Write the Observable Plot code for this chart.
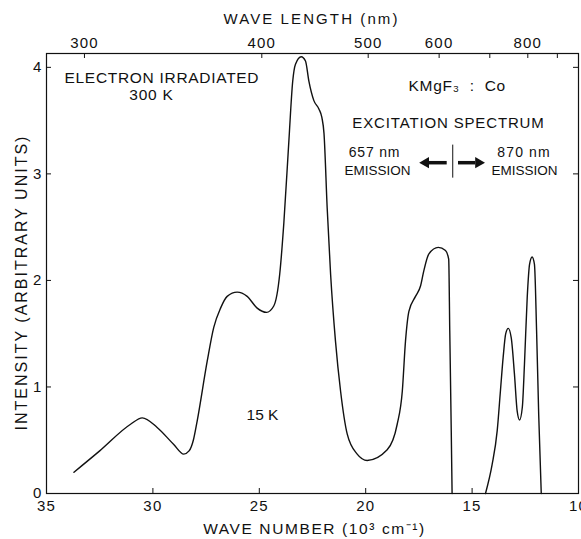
<!DOCTYPE html>
<html><head><meta charset="utf-8">
<script src="https://cdn.jsdelivr.net/npm/d3@7"></script>
<script src="https://cdn.jsdelivr.net/npm/@observablehq/plot@0.6"></script>
<style>body{margin:0;background:#fff}</style>
</head><body><div id="chart"></div>
<script>
// Excitation spectrum, part 1 (657 nm emission side)
const waveNumberA = [33.71, 32.5, 31.05, 30.5, 29.80, 29.02, 28.55, 28.30, 28.10, 27.92, 27.45, 27.14, 26.82, 26.51, 26.04, 25.57, 25.10, 24.66, 24.32, 24.04, 23.85, 23.61, 23.43, 23.30, 23.03, 22.83, 22.67, 22.44, 22.20, 22.06, 21.96, 21.81, 21.65, 21.42, 21.18, 20.87, 20.40, 19.93, 18.99, 18.52, 18.28, 18.13, 17.97, 17.66, 17.42, 17.27, 17.03, 16.59, 16.25, 16.10, 16.05, 15.98, 15.94];
const intensityA  = [0.20, 0.40, 0.65, 0.71, 0.62, 0.46, 0.37, 0.40, 0.50, 0.68, 1.24, 1.56, 1.74, 1.85, 1.89, 1.85, 1.74, 1.70, 1.76, 2.06, 2.53, 3.31, 3.87, 4.03, 4.10, 4.06, 3.87, 3.69, 3.61, 3.53, 3.38, 2.68, 2.06, 1.43, 0.96, 0.56, 0.37, 0.31, 0.41, 0.65, 0.96, 1.43, 1.71, 1.85, 1.95, 2.09, 2.25, 2.31, 2.28, 2.20, 1.53, 0.59, 0.0];
// part 2 (870 nm emission side)
const waveNumberB = [14.37, 14.06, 13.82, 13.67, 13.54, 13.42, 13.30, 13.16, 13.01, 12.88, 12.77, 12.64, 12.54, 12.41, 12.30, 12.18, 12.07, 11.97, 11.87, 11.75];
const intensityB  = [0.0, 0.27, 0.59, 0.96, 1.28, 1.50, 1.55, 1.46, 1.12, 0.77, 0.69, 0.81, 1.21, 1.84, 2.15, 2.22, 2.15, 1.53, 0.74, 0.0];

const xTicks = [35, 30, 25, 20, 15, 10];
const yTicks = [0, 1, 2, 3, 4];
const wavelengthTicks = [300, 400, 500, 600, 700, 800, 900];
const wavelengthLabels = ["300", "400", "500", "600", "", "800", ""];

const rows = [
  ...waveNumberA.map((w, i) => ({wn: w, v: intensityA[i], seg: "A"})),
  ...waveNumberB.map((w, i) => ({wn: w, v: intensityB[i], seg: "B"}))
];
const topTickWn = wavelengthTicks.map(nm => 10000 / nm);

const FONT = "Liberation Sans, Arial, sans-serif";
const ink = "#111";
const L = 46, T = 53; // frame origin (margins)

function label(txt, px, py, opts = {}) {
  return Plot.text([txt], {
    frameAnchor: "top-left", dx: px - L, dy: py - T,
    textAnchor: "middle", lineAnchor: "middle",
    fontSize: 15, fill: ink, fontFamily: FONT, ...opts
  });
}

// letter spacing per annotation (applied after render)
const spacing = {
  "WAVE LENGTH (nm)": 2.1,
  "ELECTRON IRRADIATED": 0.7,
  "300 K": 0.8,
  "KMgF₃  :  Co": 0.7,
  "EXCITATION SPECTRUM": 0.85,
  "657 nm": 0.8,
  "870 nm": 1.1,
  "INTENSITY (ARBITRARY UNITS)": 2.0,
  "WAVE NUMBER (10³ cm⁻¹)": 1.6
};

const chart = Plot.plot({
  width: 581, height: 539,
  marginLeft: L, marginRight: 3, marginTop: T, marginBottom: 46,
  x: {domain: [35, 10]},
  y: {domain: [0, 4.13]},
  style: {fontFamily: FONT, fontSize: "15px", color: ink, background: "#fff"},
  marks: [
    Plot.frame({stroke: ink, strokeWidth: 1.2}),
    // bottom axis labels + inward ticks
    Plot.axisX(xTicks, {anchor: "bottom", tickSize: 0, tickPadding: 7, fontSize: 15, label: null,
      tickFormat: d => String(d)}),
    Plot.tickX(xTicks, {x: d => d, insetTop: 435, stroke: ink}),
    // top axis (wavelength, nm)
    Plot.axisX(topTickWn, {anchor: "top", tickSize: 0, tickPadding: 6, fontSize: 15, label: null, dx: 2.5,
      tickFormat: (d, i) => wavelengthLabels[i]}),
    Plot.tickX(topTickWn, {x: d => d, insetBottom: 435, dx: 2.5, stroke: ink}),
    // left axis
    Plot.axisY(yTicks, {anchor: "left", tickSize: 0, tickPadding: 4, fontSize: 15, label: null,
      tickFormat: d => String(d)}),
    Plot.tickY(yTicks.slice(1), {y: d => d, insetRight: 527, stroke: ink}),
    Plot.tickY(yTicks.slice(1), {y: d => d, insetLeft: 527, stroke: ink}),
    // spectrum
    Plot.line(rows, {x: "wn", y: "v", z: "seg", curve: "monotone-x", stroke: ink, strokeWidth: 1.4}),
    // arrows and divider
    Plot.ruleY([3.105], {x1: 16.17, x2: 17.05, stroke: ink, strokeWidth: 3.5}),
    Plot.dot([0], {x: 17.18, y: 3.105, symbol: "triangle", r: 4.2, fill: ink, stroke: null, rotate: -90}),
    Plot.ruleY([3.105], {x1: 15.64, x2: 14.83, stroke: ink, strokeWidth: 3.5}),
    Plot.dot([0], {x: 14.70, y: 3.105, symbol: "triangle", r: 4.2, fill: ink, stroke: null, rotate: 90}),
    Plot.ruleX([15.91], {y1: 2.96, y2: 3.27, stroke: ink, strokeWidth: 1}),
    // texts
    label("WAVE LENGTH (nm)", 311, 18.5),
    label("ELECTRON IRRADIATED", 64, 77.5, {textAnchor: "start", fontSize: 15.5}),
    label("300 K", 151, 95, {fontSize: 15.5}),
    label("KMgF₃  :  Co", 408, 86, {textAnchor: "start", fontSize: 15.5}),
    label("EXCITATION SPECTRUM", 448, 123, {fontSize: 15}),
    label("657 nm", 374, 152.5, {fontSize: 14}),
    label("EMISSION", 377, 170, {fontSize: 13.5}),
    label("870 nm", 523.5, 152.5, {fontSize: 14}),
    label("EMISSION", 524, 170, {fontSize: 13.5}),
    label("15 K", 262, 414.5, {fontSize: 15.5}),
    label("INTENSITY (ARBITRARY UNITS)", 21.7, 282, {rotate: -90, fontSize: 16}),
    label("WAVE NUMBER (10³ cm⁻¹)", 314, 529, {fontSize: 15.5})
  ]
});

d3.select(chart).selectAll("text").each(function () {
  const s = spacing[this.textContent];
  if (s) this.setAttribute("letter-spacing", s + "px");
});
d3.select(chart).selectAll('g[aria-label$="tick label"] text').attr("letter-spacing", "1.2px");

document.getElementById("chart").append(chart);
</script>
</body></html>
